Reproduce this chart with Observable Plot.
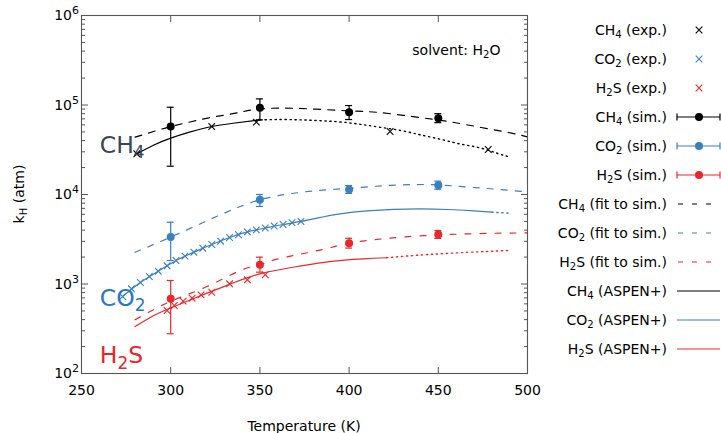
<!DOCTYPE html>
<html><head><meta charset="utf-8">
<script src="https://cdn.jsdelivr.net/npm/d3@7"></script>
<script src="https://cdn.jsdelivr.net/npm/@observablehq/plot@0.6"></script>
<style>
body{margin:0;background:#fff;}
svg{font-family:"DejaVu Sans",Verdana,sans-serif;}
</style></head><body><div id="chart"></div>
<script>
// ---------- data ----------
const simT = [300, 350, 400, 450];
const ch4Sim   = [57500, 93000, 83200, 71300];
const ch4SimLo = [20700, 68200, 68800, 63500];
const ch4SimHi = [94400, 117000, 98600, 80000];
const co2Sim   = [3340, 8730, 11400, 12700];
const co2SimLo = [1830, 7350, 10300, 11450];
const co2SimHi = [4900, 10000, 12600, 14100];
const h2sSim   = [684, 1640, 2856, 3575];
const h2sSimLo = [278, 1355, 2520, 3230];
const h2sSimHi = [1094, 1995, 3240, 3960];

const ch4ExpT = [281, 323, 348, 423, 478];
const ch4Exp  = [28500, 57500, 64300, 50600, 31800];
const co2ExpT = [273, 278, 283, 288, 293, 298, 303, 308, 313, 318, 323, 328, 333, 338, 343, 348, 353, 358, 363, 368, 373];
const co2Exp  = [725, 884, 1040, 1213, 1390, 1597, 1832, 2047, 2266, 2512, 2763, 3007, 3308, 3548, 3820, 4030, 4220, 4450, 4620, 4850, 4990];
const h2sExpT = [298, 302, 307, 312, 317, 323, 333, 343, 353];
const h2sExp  = [506, 575, 643, 694, 757, 809, 1005, 1114, 1268];

// fits to simulation (dashed)
const ch4FitT = [280, 290, 300, 310, 320, 330, 339, 350, 372, 400, 417, 441, 458, 474, 491, 500];
const ch4Fit  = [43700, 50300, 57500, 64000, 71000, 77000, 83000, 90500, 91500, 86000, 82400, 71900, 64200, 56100, 48500, 44000];
const co2FitT = [280, 300, 320, 334, 339, 350, 367, 387, 400, 421, 445, 462, 479, 495, 500];
const co2Fit  = [2260, 3340, 5050, 6700, 7340, 8730, 10200, 11300, 11700, 12600, 12900, 12300, 11600, 10900, 10650];
const h2sFitT = [280, 300, 320, 339, 350, 358, 369, 378, 389, 400, 414, 430, 450, 468, 485, 500];
const h2sFit  = [398, 640, 930, 1416, 1640, 1862, 2080, 2265, 2535, 2856, 3120, 3350, 3530, 3640, 3700, 3720];

// ASPEN+ (solid, then dotted extrapolation)
const ch4AspT = [280, 290, 300, 311, 323, 335, 350];
const ch4Asp  = [27700, 35300, 42600, 50000, 57500, 62500, 68200];
const ch4AspDotT = [350, 362, 373, 384, 395, 406, 417, 429, 440, 451, 462, 473, 483, 489];
const ch4AspDot  = [68200, 68800, 68200, 66800, 64600, 61000, 56500, 51900, 46400, 41500, 36800, 33300, 28900, 26600];
const co2AspT = [273, 283, 293, 303, 313, 323, 333, 343, 353, 363, 373, 385, 395, 410, 425, 440, 455, 470, 480];
const co2Asp  = [725, 1040, 1390, 1832, 2266, 2763, 3308, 3820, 4220, 4620, 5000, 5600, 6080, 6550, 6820, 6900, 6800, 6550, 6340];
const co2AspDotT = [480, 491];
const co2AspDot  = [6340, 6180];
const h2sAspT = [280, 290, 300, 320, 333, 350, 371, 389, 408, 421];
const h2sAsp  = [335, 440, 540, 785, 990, 1300, 1570, 1782, 1913, 1965];
const h2sAspDotT = [421, 445, 473, 489];
const h2sAspDot  = [1965, 2140, 2290, 2365];

const xTicks = [250, 300, 350, 400, 450, 500];
const yMajor = [1e2, 1e3, 1e4, 1e5, 1e6];
const yMinor = [];
for (let e = 2; e < 6; e++) for (let m = 2; m <= 9; m++) yMinor.push(m * 10 ** e);

// annotations
const gasLabels = ["CH_4", "CO_2", "H_2S"];
const gasLabelT = [260.5, 260.5, 260.5];
const gasLabelK = [28700, 561, 128];
const solventText = "solvent: H_2O";
const solventT = 435.7, solventK = 357000;

const legendLabels = ["CH_4 (exp.)", "CO_2 (exp.)", "H_2S (exp.)", "CH_4 (sim.)", "CO_2 (sim.)", "H_2S (sim.)",
  "CH_4 (fit to sim.)", "CO_2 (fit to sim.)", "H_2S (fit to sim.)", "CH_4 (ASPEN+)", "CO_2 (ASPEN+)", "H_2S (ASPEN+)"];
const legendKinds = ["exp", "exp", "exp", "sim", "sim", "sim", "fit", "fit", "fit", "asp", "asp", "asp"];

// ---------- styling ----------
const BLACK = "#000", BLUE = "#3a7fc0", RED = "#e8282b";
const gasColors = [BLACK, BLUE, RED];
const labelColors = ["#3a4654", "#2479c1", "#e8262a"];
const AX = "#555";

const zip = (T, K) => T.map((t, i) => ({T: t, k: K[i]}));
const sim = (K, L, H) => simT.map((t, i) => ({T: t, k: K[i], lo: L[i], hi: H[i]}));

function simMarks(data, c) {
  return [
    Plot.ruleX(data, {x: "T", y1: "lo", y2: "hi", stroke: c, strokeWidth: 1.2}),
    Plot.ruleY(data, {y: "lo", x1: "T", x2: "T", insetLeft: -3.5, insetRight: -3.5, stroke: c, strokeWidth: 1.2}),
    Plot.ruleY(data, {y: "hi", x1: "T", x2: "T", insetLeft: -3.5, insetRight: -3.5, stroke: c, strokeWidth: 1.2}),
    Plot.dot(data, {x: "T", y: "k", r: 4, fill: c, stroke: "none"})
  ];
}
const line = (data, c, dash, w = 1.2) => Plot.line(data, {x: "T", y: "k", stroke: c, strokeWidth: w, strokeDasharray: dash, curve: "natural"});
const dotted = (data, c) => Plot.line(data, {x: "T", y: "k", stroke: c, strokeWidth: 1.4, strokeDasharray: "1.3,3.7", curve: "natural"});
const cross = (data, c) => Plot.dot(data, {x: "T", y: "k", symbol: "times", r: 3.1, stroke: c, strokeWidth: 1.1});

const plot = Plot.plot({
  width: 721, height: 433,
  marginLeft: 81, marginRight: 194, marginTop: 15, marginBottom: 60,
  style: {fontFamily: "DejaVu Sans, sans-serif", fontSize: "14px", background: "#fff", color: "#000"},
  x: {domain: [250, 500], axis: null},
  y: {type: "log", domain: [100, 1e6], axis: null},
  marks: [
    line(zip(ch4FitT, ch4Fit), BLACK, "7,7"),
    line(zip(co2FitT, co2Fit), BLUE, "6,8"),
    line(zip(h2sFitT, h2sFit), RED, "6,9"),
    line(zip(ch4AspT, ch4Asp), BLACK, null),
    line(zip(co2AspT, co2Asp), BLUE, null),
    line(zip(h2sAspT, h2sAsp), RED, null),
    dotted(zip(ch4AspDotT, ch4AspDot), BLACK),
    dotted(zip(co2AspDotT, co2AspDot), BLUE),
    dotted(zip(h2sAspDotT, h2sAspDot), RED),
    cross(zip(ch4ExpT, ch4Exp), BLACK),
    cross(zip(co2ExpT, co2Exp), BLUE),
    cross(zip(h2sExpT, h2sExp), RED),
    ...simMarks(sim(ch4Sim, ch4SimLo, ch4SimHi), BLACK),
    ...simMarks(sim(co2Sim, co2SimLo, co2SimHi), BLUE),
    ...simMarks(sim(h2sSim, h2sSimLo, h2sSimHi), RED),
    Plot.axisY({ticks: yMajor, anchor: "left", tickSize: -7, tickFormat: () => "", label: null, stroke: AX}),
    Plot.axisY({ticks: yMinor, anchor: "left", tickSize: -4, tickFormat: () => "", label: null, stroke: AX}),
    Plot.axisY({ticks: yMajor, anchor: "right", tickSize: -7, tickFormat: () => "", label: null, stroke: AX}),
    Plot.axisY({ticks: yMinor, anchor: "right", tickSize: -4, tickFormat: () => "", label: null, stroke: AX}),
    Plot.axisX({ticks: xTicks, anchor: "bottom", tickSize: -6, tickPadding: 18, label: null, stroke: AX, fontSize: 14}),
    Plot.axisX({ticks: xTicks.slice(1, -1), anchor: "top", tickSize: -6, tickFormat: () => "", label: null, stroke: AX}),
    Plot.frame({stroke: AX, strokeWidth: 1.1})
  ]
});
document.getElementById("chart").appendChild(plot);

// ---------- rich text (subscripts / superscripts) ----------
const X = plot.scale("x"), Y = plot.scale("y");
const svg = d3.select(plot);
function rich(x, y, str, size, fill, anchor = "start", transform = null) {
  const t = svg.append("text").attr("x", x).attr("y", y).attr("font-size", size)
    .attr("fill", fill).attr("text-anchor", anchor).attr("font-family", "DejaVu Sans, sans-serif");
  if (transform) t.attr("transform", transform);
  const parts = str.split(/(_.)/).filter(s => s.length);
  const shift = size * 0.22;
  let down = false;
  parts.forEach(p => {
    if (p[0] === "_") {
      t.append("tspan").attr("dy", shift).attr("font-size", size * 0.72).text(p[1]);
      down = true;
    } else {
      const s = t.append("tspan").text(p);
      if (down) { s.attr("dy", -shift); down = false; }
    }
  });
  return t;
}

// y tick labels 10^n
yMajor.forEach(v => {
  const t = svg.append("text").attr("x", 79).attr("y", Y.apply(v) + 5).attr("font-size", 14)
    .attr("text-anchor", "end").attr("font-family", "DejaVu Sans, sans-serif");
  t.append("tspan").text("10");
  t.append("tspan").attr("dy", -6).attr("font-size", 11).text(String(Math.round(Math.log10(v))));
});

// axis titles
rich((X.apply(250) + X.apply(500)) / 2, 431, "Temperature (K)", 14, "#000", "middle");
rich(0, 0, "k_H (atm)", 14, "#000", "middle", `translate(24,${(Y.apply(1e2) + Y.apply(1e6)) / 2}) rotate(-90)`);

// gas labels and solvent note
gasLabels.forEach((g, i) => rich(X.apply(gasLabelT[i]), Y.apply(gasLabelK[i]), g, 23.5, labelColors[i]));
rich(X.apply(solventT), Y.apply(solventK), solventText, 14, "#000");

// ---------- legend ----------
const lg = svg.append("g");
legendLabels.forEach((lab, i) => {
  const cy = 30 + 29 * i;
  const c = gasColors[i % 3];
  rich(667, cy + 5, lab, 14, "#000", "end");
  const k = legendKinds[i];
  if (k === "exp") {
    lg.append("path").attr("d", d3.symbol(d3.symbolTimes, Math.PI * 3.1 * 3.1)())
      .attr("transform", `translate(699,${cy})`).attr("stroke", c).attr("stroke-width", 1.1).attr("fill", "none");
  } else if (k === "sim") {
    lg.append("line").attr("x1", 677).attr("x2", 720).attr("y1", cy).attr("y2", cy).attr("stroke", c).attr("stroke-width", 1.2);
    [677, 720].forEach(x => lg.append("line").attr("x1", x).attr("x2", x).attr("y1", cy - 3.5).attr("y2", cy + 3.5).attr("stroke", c).attr("stroke-width", 1.2));
    lg.append("circle").attr("cx", 699).attr("cy", cy).attr("r", 4).attr("fill", c);
  } else if (k === "fit") {
    lg.append("line").attr("x1", 678).attr("x2", 713).attr("y1", cy).attr("y2", cy).attr("stroke", c)
      .attr("stroke-width", 1.2).attr("stroke-dasharray", "5,9");
  } else {
    lg.append("line").attr("x1", 677).attr("x2", 720).attr("y1", cy).attr("y2", cy).attr("stroke", c).attr("stroke-width", 1.2);
  }
});
</script></body></html>
